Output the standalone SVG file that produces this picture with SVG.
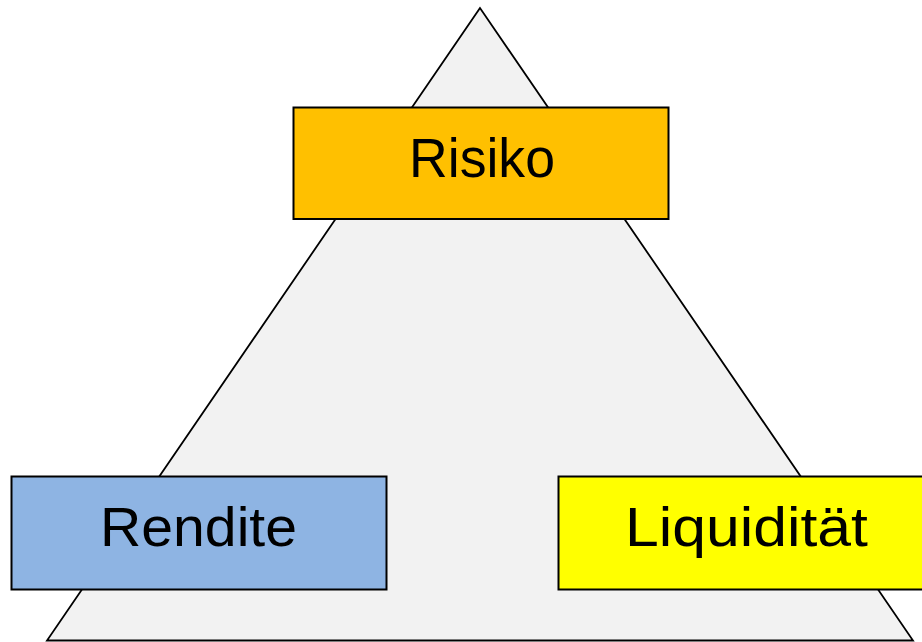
<svg xmlns="http://www.w3.org/2000/svg" width="922" height="642" viewBox="0 0 922 642">
<style>
.box{stroke:#000;stroke-width:2}
.lbl{font-family:"Liberation Sans",Arial,sans-serif;font-size:55px;fill:#000;text-anchor:middle}
</style>
<rect width="922" height="642" fill="#fff"/>
<g id="triangle">
<polygon points="480,8 47,640.5 913,640.5" fill="#F2F2F2" stroke="#000" stroke-width="1.8" stroke-linejoin="miter"/>
</g>
<g id="connectors"></g>
<g id="risiko">
<rect class="box" x="293.5" y="107.5" width="375" height="111.5" fill="#FFC000"/>
<text class="lbl" x="482" y="177" textLength="146" lengthAdjust="spacingAndGlyphs">Risiko</text>
</g>
<g id="rendite">
<rect class="box" x="11.5" y="476.5" width="375" height="113" fill="#8EB4E3"/>
<text class="lbl" x="198.5" y="546" textLength="197" lengthAdjust="spacingAndGlyphs">Rendite</text>
</g>
<g id="liquiditaet">
<rect class="box" x="558.5" y="476.5" width="375" height="113" fill="#FFFF00"/>
<text class="lbl" x="746.5" y="546" textLength="243" lengthAdjust="spacingAndGlyphs">Liquidität</text>
</g>
</svg>
